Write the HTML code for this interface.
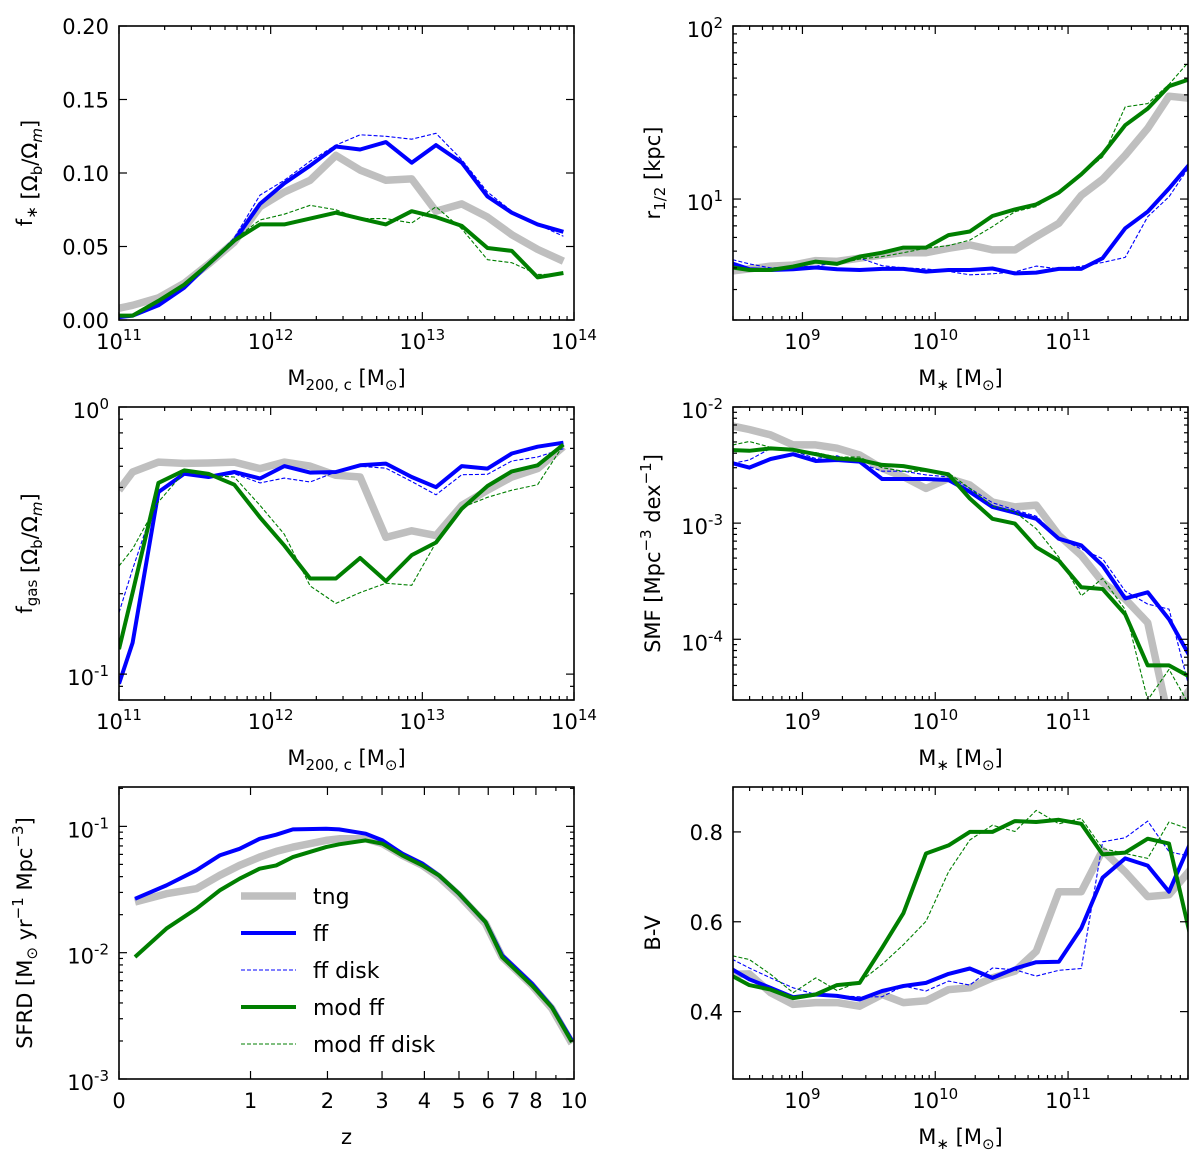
<!DOCTYPE html>
<html><head><meta charset="utf-8"><style>
body{margin:0;background:#fff}
svg{display:block;font-family:"DejaVu Sans","Liberation Sans",sans-serif}
</style></head><body>
<svg id="fig" width="1200" height="1155" viewBox="0 0 1200 1155" xmlns="http://www.w3.org/2000/svg"></svg>
<script>
// ---- data ----
const mhalo=[11.0,11.09,11.26,11.43,11.59,11.76,11.93,12.09,12.26,12.43,12.59,12.76,12.93,13.09,13.26,13.43,13.59,13.76,13.93];
const fstarTng=[0.008,0.010,0.015,0.025,0.038,0.053,0.077,0.087,0.095,0.112,0.102,0.095,0.096,0.074,0.079,0.070,0.058,0.048,0.040];
const fstarFF=[0.002,0.003,0.010,0.022,0.038,0.054,0.079,0.093,0.105,0.118,0.116,0.121,0.107,0.119,0.107,0.084,0.073,0.065,0.060];
const fstarFFdisk=[0.002,0.003,0.010,0.022,0.038,0.056,0.085,0.095,0.108,0.119,0.126,0.125,0.123,0.127,0.109,0.087,0.074,0.065,0.057];
const fstarMod=[0.003,0.003,0.013,0.024,0.038,0.054,0.065,0.065,0.069,0.073,0.069,0.065,0.074,0.070,0.064,0.049,0.047,0.029,0.032];
const fstarModdisk=[0.003,0.003,0.013,0.024,0.038,0.055,0.068,0.072,0.078,0.075,0.069,0.069,0.066,0.077,0.062,0.041,0.039,0.031,0.031];
const fgasTng=[0.488,0.571,0.622,0.615,0.617,0.622,0.588,0.622,0.601,0.555,0.547,0.325,0.344,0.330,0.428,0.488,0.547,0.588,0.710];
const fgasFF=[0.092,0.131,0.480,0.562,0.547,0.571,0.540,0.601,0.568,0.571,0.605,0.614,0.547,0.501,0.601,0.588,0.670,0.710,0.735];
const fgasFFdisk=[0.170,0.247,0.480,0.562,0.547,0.562,0.520,0.542,0.524,0.571,0.600,0.590,0.526,0.469,0.558,0.560,0.628,0.650,0.698];
const fgasMod=[0.124,0.202,0.520,0.579,0.562,0.512,0.386,0.303,0.228,0.228,0.272,0.223,0.279,0.311,0.416,0.506,0.574,0.605,0.723];
const fgasModdisk=[0.254,0.294,0.441,0.571,0.554,0.547,0.428,0.334,0.214,0.184,0.202,0.219,0.215,0.311,0.420,0.459,0.488,0.512,0.720];
const mstar=[8.43,8.60,8.76,8.93,9.10,9.26,9.43,9.60,9.76,9.93,10.10,10.26,10.43,10.60,10.76,10.93,11.10,11.26,11.43,11.60,11.76,11.93];
const rTng=[3.81,3.95,4.10,4.15,4.41,4.36,4.55,4.75,4.90,4.90,5.19,5.43,5.08,5.08,6.07,7.24,10.5,13.0,17.9,25.6,39.3,38.1];
const rFF=[4.35,3.93,3.89,3.93,4.02,3.93,3.89,3.95,3.95,3.81,3.89,3.89,3.97,3.72,3.76,3.95,3.95,4.55,6.78,8.45,11.5,16.4];
const rFFdisk=[4.55,4.22,4.00,4.05,4.09,4.30,4.55,4.12,4.00,3.95,3.82,3.65,3.70,3.80,4.10,3.95,4.09,4.30,4.60,7.91,10.3,16.1];
const rMod=[4.07,3.89,3.89,4.07,4.35,4.22,4.65,4.90,5.24,5.24,6.19,6.49,7.98,8.71,9.31,10.9,13.9,18.2,26.7,33.3,44.9,49.7];
const rModdisk=[4.07,3.89,3.89,4.07,4.35,4.22,4.50,4.65,4.90,5.20,5.38,5.79,6.92,8.45,9.04,10.9,13.9,17.5,34.1,35.6,46.0,64.9];
const smfTng=[7.03e-3,6.4e-3,5.75e-3,4.72e-3,4.72e-3,4.42e-3,3.86e-3,2.96e-3,2.51e-3,1.99e-3,2.43e-3,2.13e-3,1.52e-3,1.38e-3,1.43e-3,7.85e-4,5.27e-4,3.10e-4,2.22e-4,1.39e-4,2.0e-5,3.9e-5];
const smfFF=[3.39e-3,3.01e-3,3.57e-3,3.92e-3,3.43e-3,3.50e-3,3.39e-3,2.40e-3,2.40e-3,2.40e-3,2.35e-3,1.86e-3,1.38e-3,1.23e-3,1.09e-3,7.35e-4,6.43e-4,4.32e-4,2.25e-4,2.54e-4,1.49e-4,6.7e-5];
const smfFFdisk=[3.2e-3,3.5e-3,4.4e-3,4.2e-3,3.6e-3,3.8e-3,3.3e-3,2.8e-3,2.8e-3,2.6e-3,2.5e-3,2.0e-3,1.5e-3,1.3e-3,1.15e-3,7.4e-4,6.0e-4,4.93e-4,2.6e-4,2.01e-4,1.82e-4,3.2e-5];
const smfMod=[4.28e-3,4.20e-3,4.40e-3,4.28e-3,3.92e-3,3.60e-3,3.50e-3,3.17e-3,3.10e-3,2.86e-3,2.63e-3,1.63e-3,1.09e-3,9.9e-4,6.2e-4,4.76e-4,2.80e-4,2.71e-4,1.64e-4,5.96e-5,5.96e-5,4.66e-5];
const smfModdisk=[4.6e-3,5.05e-3,4.5e-3,4.2e-3,4.05e-3,3.7e-3,3.7e-3,3.0e-3,2.8e-3,2.8e-3,2.7e-3,1.99e-3,1.4e-3,1.25e-3,8.95e-4,5.1e-4,2.37e-4,3.35e-4,1.8e-4,3.0e-5,5.5e-5,2.5e-5];
const bvTng=[0.483,0.484,0.442,0.416,0.420,0.420,0.412,0.438,0.420,0.424,0.449,0.453,0.475,0.490,0.534,0.667,0.667,0.759,0.711,0.656,0.660,0.719];
const bvFF=[0.501,0.472,0.453,0.432,0.438,0.435,0.427,0.446,0.457,0.464,0.484,0.496,0.475,0.496,0.510,0.511,0.586,0.698,0.741,0.725,0.667,0.782];
const bvFFdisk=[0.523,0.497,0.475,0.453,0.438,0.435,0.433,0.433,0.457,0.446,0.468,0.459,0.497,0.493,0.479,0.492,0.496,0.778,0.787,0.824,0.756,0.745];
const bvMod=[0.486,0.459,0.449,0.430,0.438,0.459,0.464,0.542,0.619,0.752,0.770,0.800,0.800,0.824,0.822,0.827,0.818,0.750,0.754,0.785,0.774,0.556];
const bvModdisk=[0.527,0.516,0.483,0.442,0.475,0.447,0.466,0.505,0.549,0.601,0.711,0.782,0.815,0.801,0.848,0.818,0.830,0.763,0.752,0.741,0.822,0.804];
const zz=[0.088,0.284,0.504,0.700,0.888,1.098,1.29,1.50,1.978,2.19,2.67,3.01,3.45,3.95,4.40,5.0,5.90,6.53,7.81,8.79,9.88];
const sfrdTng=[0.0252,0.0293,0.0321,0.0409,0.0491,0.0571,0.0634,0.0685,0.0774,0.0798,0.0798,0.0729,0.0589,0.0491,0.0397,0.0284,0.0170,0.00925,0.00551,0.00361,0.00191];
const sfrdFF=[0.0267,0.0341,0.0449,0.0589,0.0665,0.0798,0.0859,0.0946,0.0959,0.0946,0.0875,0.0774,0.0608,0.0506,0.0409,0.0293,0.0175,0.00953,0.00569,0.00372,0.00202];
const sfrdFFdisk=[0.0268,0.0343,0.0452,0.0592,0.0668,0.0800,0.0862,0.0950,0.0962,0.0950,0.0878,0.0774,0.0608,0.0506,0.0409,0.0293,0.0175,0.00953,0.00569,0.00372,0.00202];
const sfrdMod=[0.00925,0.0155,0.0223,0.0311,0.0385,0.0462,0.0491,0.0571,0.0685,0.0721,0.0774,0.0729,0.0589,0.0491,0.0409,0.0293,0.0175,0.00925,0.00551,0.00369,0.00196];
const sfrdModdisk=[0.00930,0.0156,0.0225,0.0313,0.0387,0.0465,0.0495,0.0575,0.0688,0.0724,0.0778,0.0729,0.0589,0.0491,0.0409,0.0293,0.0175,0.00925,0.00551,0.00369,0.00196];
const zTicks=[0,1,2,3,4,5,6,7,8,10];

// ---- drawing ----
const NS='http://www.w3.org/2000/svg';
const svg=document.getElementById('fig');
function el(tag,attrs,parent){const e=document.createElementNS(NS,tag);for(const k in attrs)e.setAttribute(k,attrs[k]);(parent||svg).appendChild(e);return e;}
const STY={tng:{s:'#bfbfbf',w:7.5,d:''},ff:{s:'#0000ff',w:4,d:''},ffd:{s:'#0000ff',w:1.1,d:'4,2'},mod:{s:'#007f00',w:4,d:''},modd:{s:'#007f00',w:1.1,d:'4,2'}};

function panel(name,box,xs,ys,series,xlab,ylab,ylx){
  const g=el('g',{});
  
  
  const clipId='c'+name;
  const cp=el('clipPath',{id:clipId},g);el('rect',{x:box.x0,y:box.y0,width:box.x1-box.x0,height:box.y1-box.y0},cp);
  const X=v=>box.x0+(xs.f(v)-xs.f(xs.lo))/(xs.f(xs.hi)-xs.f(xs.lo))*(box.x1-box.x0);
  const Y=v=>box.y1-(ys.f(v)-ys.f(ys.lo))/(ys.f(ys.hi)-ys.f(ys.lo))*(box.y1-box.y0);
  const lg=el('g',{'clip-path':'url(#'+clipId+')'},g);
  for(const s of series){
    const st=STY[s.k];
    let d='';s.x.forEach((xv,i)=>{d+=(i?'L':'M')+X(xv).toFixed(1)+','+Y(s.y[i]).toFixed(1);});
    const p=el('path',{d:d,fill:'none',stroke:st.s,'stroke-width':st.w,'stroke-linejoin':'round','stroke-dasharray':st.d},lg);
    
    
  }
  const fr=el('rect',{x:box.x0,y:box.y0,width:box.x1-box.x0,height:box.y1-box.y0,fill:'none',stroke:'#000','stroke-width':1.6},g);
  
  
  xs.ticks.forEach(t=>{const x=X(t.v);if(x<box.x0-0.5||x>box.x1+0.5)return;const L=t.maj?8:4;
    el('line',{x1:x,x2:x,y1:box.y1,y2:box.y1-L,stroke:'#000','stroke-width':1.2},g);
    el('line',{x1:x,x2:x,y1:box.y0,y2:box.y0+L,stroke:'#000','stroke-width':1.2},g);
    if(t.lab!==undefined){const tx=el('text',{x:x,y:box.y1+29,'font-size':21,'text-anchor':'middle'},g);
      
      if(t.exp!==undefined){tx.textContent='10';const sp=el('tspan',{dy:-9,'font-size':15},tx);sp.textContent=t.exp;}else tx.textContent=t.lab;}
  });
  ys.ticks.forEach(t=>{const y=Y(t.v);if(y<box.y0-0.5||y>box.y1+0.5)return;const L=t.maj?8:4;
    el('line',{x1:box.x0,x2:box.x0+L,y1:y,y2:y,stroke:'#000','stroke-width':1.2},g);
    el('line',{x1:box.x1,x2:box.x1-L,y1:y,y2:y,stroke:'#000','stroke-width':1.2},g);
    if(t.lab!==undefined){const tx=el('text',{x:box.x0-10,y:y+8,'font-size':21,'text-anchor':'end'},g);
      
      if(t.exp!==undefined){tx.setAttribute('y',y+11);tx.textContent='10';const sp=el('tspan',{dy:-9,'font-size':15},tx);sp.textContent=t.exp;}else tx.textContent=t.lab;}
  });
  const xl=el('text',{x:(box.x0+box.x1)/2,y:box.y1+65,'font-size':21,'text-anchor':'middle'},g);
  
  xl.innerHTML=xlab;
  const yl=el('text',{x:0,y:0,'font-size':21,'text-anchor':'middle',transform:'translate('+ylx+','+((box.y0+box.y1)/2)+') rotate(-90)'},g);
  
  yl.innerHTML=ylab;
}
function logAx(lo,hi){const ticks=[];for(let e=Math.floor(Math.log10(lo));e<=Math.ceil(Math.log10(hi));e++){for(let m=1;m<10;m++){const v=m*Math.pow(10,e);if(v<lo*0.999||v>hi*1.001)continue;ticks.push(m===1?{v:v,maj:1,lab:'',exp:String(e)}:{v:v,maj:0});}}return{lo:lo,hi:hi,f:Math.log10,ticks:ticks};}
function linAx(lo,hi,vals,fmt){return{lo:lo,hi:hi,f:v=>v,ticks:vals.map(v=>({v:v,maj:1,lab:fmt(v)}))};}
const pw=x=>x.map(v=>Math.pow(10,v));
const mhx=pw(mhalo), msx=pw(mstar);
function five(x,a,b,c,d,e){return[{k:'tng',n:'tng',x:x,y:a},{k:'ff',n:'ff',x:x,y:b},{k:'ffd',n:'ff-disk',x:x,y:c},{k:'mod',n:'mod-ff',x:x,y:d},{k:'modd',n:'mod-ff-disk',x:x,y:e}];}
const MH='M<tspan dy="5" font-size="15">200, c</tspan><tspan dy="-5"> [M</tspan><tspan dy="5" font-size="15">⊙</tspan><tspan dy="-5">]</tspan>';
const MS='M<tspan dy="5" font-size="15">∗</tspan><tspan dy="-5"> [M</tspan><tspan dy="5" font-size="15">⊙</tspan><tspan dy="-5">]</tspan>';
const OM=' [Ω<tspan dy="5" font-size="15">b</tspan><tspan dy="-5">/Ω</tspan><tspan dy="5" font-size="15" font-style="italic">m</tspan><tspan dy="-5">]</tspan>';

panel('fstar-panel',{x0:119,x1:574,y0:26,y1:320},logAx(1e11,1e14),linAx(0,0.2,[0,0.05,0.1,0.15,0.2],v=>v.toFixed(2)),
  five(mhx,fstarTng,fstarFF,fstarFFdisk,fstarMod,fstarModdisk),MH,'f<tspan dy="5" font-size="15">∗</tspan><tspan dy="-5"></tspan>'+OM,32);
panel('r-half-panel',{x0:733,x1:1188,y0:26,y1:320},logAx(3e8,8e11),logAx(2,100),
  five(msx,rTng,rFF,rFFdisk,rMod,rModdisk),MS,'r<tspan dy="5" font-size="15">1/2</tspan><tspan dy="-5"> [kpc]</tspan>',660);
panel('fgas-panel',{x0:119,x1:574,y0:407,y1:700},logAx(1e11,1e14),logAx(0.08,1),
  five(mhx,fgasTng,fgasFF,fgasFFdisk,fgasMod,fgasModdisk),MH,'f<tspan dy="5" font-size="15">gas</tspan><tspan dy="-5"></tspan>'+OM,32);
panel('smf-panel',{x0:733,x1:1188,y0:407,y1:700},logAx(3e8,8e11),logAx(3e-5,1e-2),
  five(msx,smfTng,smfFF,smfFFdisk,smfMod,smfModdisk),MS,'SMF [Mpc<tspan dy="-9" font-size="15">−3</tspan><tspan dy="9"> dex</tspan><tspan dy="-9" font-size="15">−1</tspan><tspan dy="9">]</tspan>',660);
const zAx={lo:0,hi:10,f:z=>Math.log10(1+z),ticks:zTicks.map(v=>({v:v,maj:1,lab:String(v)})).concat([{v:9,maj:0}])};
panel('sfrd-panel',{x0:119,x1:574,y0:787,y1:1079},zAx,logAx(1e-3,0.205),
  five(zz,sfrdTng,sfrdFF,sfrdFFdisk,sfrdMod,sfrdModdisk),'z','SFRD [M<tspan dy="5" font-size="15">⊙</tspan><tspan dy="-5"> yr</tspan><tspan dy="-9" font-size="15">−1</tspan><tspan dy="9"> Mpc</tspan><tspan dy="-9" font-size="15">−3</tspan><tspan dy="9">]</tspan>',32);
panel('bv-panel',{x0:733,x1:1188,y0:787,y1:1079},logAx(3e8,8e11),linAx(0.25,0.9,[0.4,0.6,0.8],v=>v.toFixed(1)),
  five(msx,bvTng,bvFF,bvFFdisk,bvMod,bvModdisk),MS,'B-V',660);

const leg=el('g',{});


[['tng','tng'],['ff','ff'],['ffd','ff disk'],['mod','mod ff'],['modd','mod ff disk']].forEach((r,i)=>{
  const y=896+i*37,st=STY[r[0]];
  const ln=el('line',{x1:241,x2:296,y1:y,y2:y,stroke:st.s,'stroke-width':st.w,'stroke-dasharray':st.d},leg);
  
  
  const t=el('text',{x:313,y:y+8,'font-size':22},leg);t.textContent=r[1];
  
  
});
</script>
</body></html>
